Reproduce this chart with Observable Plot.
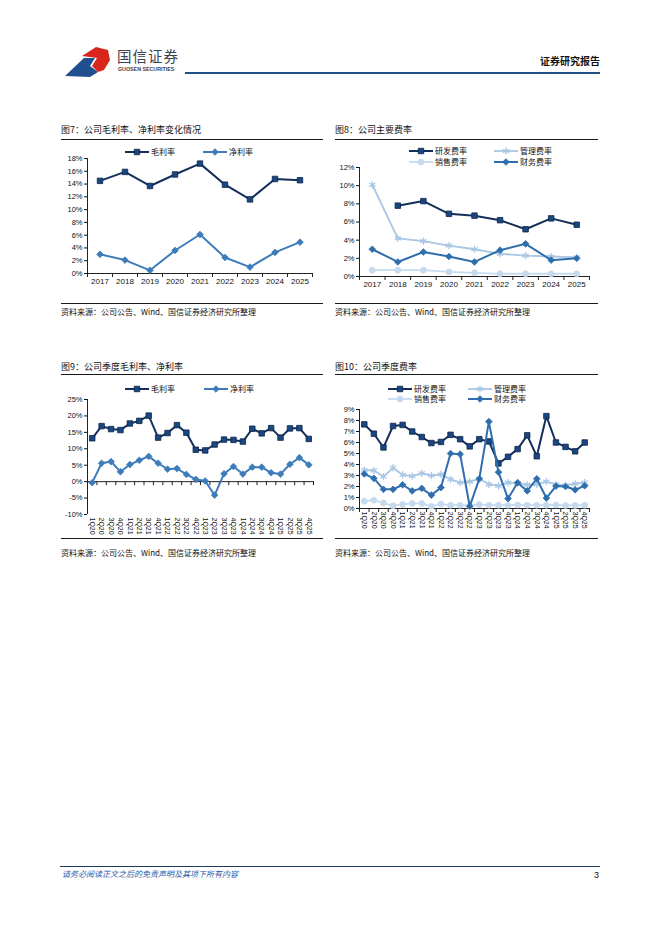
<!DOCTYPE html>
<html><head><meta charset="utf-8">
<script src="https://cdn.jsdelivr.net/npm/d3@7"></script>
<script src="https://cdn.jsdelivr.net/npm/@observablehq/plot@0.6"></script>
<style>
body{margin:0;width:662px;height:936px;background:#fff;position:relative;overflow:hidden;font-family:"Noto Sans CJK SC","Liberation Sans",sans-serif;color:#111}
.abs{position:absolute;white-space:nowrap}
.title{font-size:9px;line-height:11px}
.hr{position:absolute;height:0;border-top:1.3px solid #1a1a1a}
.src{font-size:8px;line-height:10px}
.leg{font-size:8px;line-height:8px;height:8px;color:#111}
</style></head><body>
<script>
// ---------- data ----------
const years = ["2017","2018","2019","2020","2021","2022","2023","2024","2025"];
const grossMarginY = [14.5, 15.9, 13.7, 15.5, 17.2, 13.9, 11.6, 14.8, 14.6];
const netMarginY   = [3.0, 2.1, 0.5, 3.6, 6.1, 2.5, 1.0, 3.3, 4.9];
const rdRateY      = [null, 7.8, 8.3, 6.9, 6.7, 6.2, 5.2, 6.4, 5.7];
const mgmtRateY    = [10.1, 4.2, 3.9, 3.4, 3.0, 2.5, 2.3, 2.2, 2.1];
const salesRateY   = [0.7, 0.7, 0.7, 0.5, 0.4, 0.3, 0.3, 0.3, 0.3];
const finRateY     = [3.0, 1.6, 2.7, 2.2, 1.6, 2.9, 3.6, 1.8, 2.0];

const quarters = ["1Q20","2Q20","3Q20","4Q20","1Q21","2Q21","3Q21","4Q21","1Q22","2Q22","3Q22","4Q22",
                  "1Q23","2Q23","3Q23","4Q23","1Q24","2Q24","3Q24","4Q24","1Q25","2Q25","3Q25","4Q25"];
const grossMarginQ = [13.2,16.9,16.0,15.7,17.7,18.5,20.1,13.4,14.8,17.2,14.9,9.7,9.5,11.3,12.8,12.7,12.2,16.1,14.7,16.3,13.4,16.2,16.3,13.0];
const netMarginQ   = [-0.3,5.6,6.1,3.0,5.2,6.5,7.7,5.6,3.8,4.0,2.2,0.7,0.2,-4.1,2.4,4.6,2.3,4.4,4.4,2.7,2.3,5.3,7.3,5.1];
const rdRateQ      = [7.65,6.8,5.55,7.5,7.6,7.0,6.5,5.95,6.05,6.7,6.3,5.65,6.3,6.1,4.1,4.7,5.4,6.65,4.75,8.4,6.0,5.6,5.2,6.0];
const mgmtRateQ    = [3.5,3.45,2.9,3.7,3.05,2.95,3.2,3.0,3.1,2.65,2.35,2.45,2.7,2.2,2.05,2.35,2.3,2.15,2.2,2.45,2.2,2.1,2.25,2.35];
const salesRateQ   = [0.67,0.76,0.5,0.25,0.37,0.46,0.46,0.2,0.4,0.3,0.3,0.25,0.37,0.3,0.3,0.3,0.32,0.3,0.3,0.3,0.32,0.28,0.28,0.3];
const finRateQ     = [3.14,2.74,1.74,1.74,2.16,1.6,1.83,1.22,1.9,5.0,4.94,0.2,2.7,7.9,3.3,0.9,2.35,1.6,2.7,0.95,2.04,2.0,1.7,2.07];

const ticks7 = [0,2,4,6,8,10,12,14,16,18];
const ticks8 = [0,2,4,6,8,10,12];
const ticks9 = [-10,-5,0,5,10,15,20,25];
const ticks10 = [0,1,2,3,4,5,6,7,8,9];

// ---------- styles ----------
const ST = {
  gross: {stroke:"#14305a", fill:"#1a4781", mstroke:"#0c2447", symbol:"square", r:3.1, sw:2},
  net:   {stroke:"#3d7cb9", fill:"#3d7cb9", mstroke:"#3d7cb9", symbol:"diamond2", r:3.0, sw:2},
  rd:    {stroke:"#14305a", fill:"#1a4781", mstroke:"#0c2447", symbol:"square", r:3.1, sw:2},
  mgmt:  {stroke:"#a9c6e4", fill:"none", mstroke:"#a9c6e4", symbol:"asterisk", r:3.4, sw:1.8},
  sales: {stroke:"#c6daef", fill:"#c6daef", mstroke:"#c6daef", symbol:"circle", r:3.0, sw:1.8},
  fin:   {stroke:"#2f6ead", fill:"#2f6ead", mstroke:"#2f6ead", symbol:"diamond2", r:3.0, sw:2}
};

function el(tag, cls, css, html){
  const e = document.createElement(tag);
  if (cls) e.className = cls;
  Object.assign(e.style, css || {});
  if (html != null) e.innerHTML = html;
  document.body.appendChild(e);
  return e;
}

function chart({left, top, width, height, ml, mr, mt, mb, labels, yDomain, yTicks, rotate, series}){
  const n = labels.length;
  const bounds = d3.range(n + 1).map(i => i - 0.5);
  const marks = [];
  marks.push(Plot.ruleY([0], {stroke:"#222", strokeWidth:1}));
  marks.push(Plot.ruleX(bounds, {x: d => d, y1: () => 0, y2: () => 0, insetBottom: -4, stroke:"#222", strokeWidth:1}));
  marks.push(Plot.ruleX([-0.5], {stroke:"#222", strokeWidth:1}));
  marks.push(Plot.axisY({ticks: yTicks, tickSize: 3, tickPadding: 2, tickFormat: d => d + "%", fontSize: 7.5}));
  marks.push(Plot.axisX({ticks: d3.range(n), tickFormat: i => labels[i], tickSize: 0,
    tickPadding: rotate ? 3 : 5, tickRotate: rotate ? 90 : 0, fontSize: rotate ? 7 : 8}));
  for (const s of series){
    const st = ST[s.style];
    const rows = s.values.map((v, i) => ({i, v}));
    marks.push(Plot.line(rows, {x:"i", y:"v", stroke: st.stroke, strokeWidth: st.sw}));
    marks.push(Plot.dot(rows.filter(d => d.v != null), {x:"i", y:"v", symbol: st.symbol, r: st.r,
      fill: st.fill, stroke: st.mstroke, strokeWidth: st.symbol === "asterisk" ? 1.3 : 0.8}));
  }
  const svg = Plot.plot({
    width, height, marginLeft: ml, marginRight: mr, marginTop: mt, marginBottom: mb,
    x: {type:"linear", domain:[-0.5, n - 0.5], label:null},
    y: {domain: yDomain, label:null},
    style: {fontFamily:"'Liberation Sans', Arial, sans-serif", fontSize:"8px", color:"#111", background:"transparent", overflow:"visible"},
    marks
  });
  const wrap = el("div", "abs", {left: left + "px", top: top + "px"});
  wrap.appendChild(svg);
}

function legendItem(x, y, styleKey, label){
  const st = ST[styleKey];
  const w = 24, h = 8;
  const ns = "http://www.w3.org/2000/svg";
  const d = el("div", "abs leg", {left: x + "px", top: (y - 4) + "px", display:"flex", alignItems:"center"});
  const svg = document.createElementNS(ns, "svg");
  svg.setAttribute("width", w); svg.setAttribute("height", h);
  svg.style.marginRight = "2px";
  svg.style.overflow = "visible";
  const ln = document.createElementNS(ns, "line");
  ln.setAttribute("x1", 0); ln.setAttribute("x2", w); ln.setAttribute("y1", h/2); ln.setAttribute("y2", h/2);
  ln.setAttribute("stroke", st.stroke); ln.setAttribute("stroke-width", st.sw);
  svg.appendChild(ln);
  const symMap = {square: d3.symbolSquare, diamond2: d3.symbolDiamond2, asterisk: d3.symbolAsterisk, circle: d3.symbolCircle};
  const p = document.createElementNS(ns, "path");
  p.setAttribute("d", d3.symbol(symMap[st.symbol], Math.PI * st.r * st.r)());
  p.setAttribute("transform", `translate(${w/2},${h/2})`);
  p.setAttribute("fill", st.fill); p.setAttribute("stroke", st.mstroke);
  p.setAttribute("stroke-width", st.symbol === "asterisk" ? 1.3 : 0.8);
  svg.appendChild(p);
  d.appendChild(svg);
  const t = document.createElement("span"); t.textContent = label; d.appendChild(t);
}

// ---------- header ----------
el("div", "abs", {left:"62px", top:"44px"}, `<svg width="52" height="34">
  <path d="M3,32 L22,14 L33,14 L28,22 L36,28 L28,33 Z" fill="#1f4f8f"/>
  <path d="M20,12 L34,3 L46,6 L48,16 L42,26 L36,28 L30,22 L35,14 Z" fill="#d9261c"/>
</svg>`);
el("div", "abs", {left:"117px", top:"47px", fontSize:"14.5px", color:"#3a4350", letterSpacing:"1px", lineHeight:"17px"}, "国信证券");
el("div", "abs", {left:"118px", top:"66px", fontSize:"5.3px", color:"#3a4350", fontWeight:"bold", fontFamily:"'Liberation Sans',sans-serif", lineHeight:"7px"}, "GUOSEN SECURITIES");
el("div", "abs", {left:"185px", top:"72px", width:"415px", height:"2px", background:"#1f4f86"});
el("div", "abs", {right:"62px", top:"55px", fontSize:"10px", fontWeight:"bold", color:"#111", lineHeight:"12px"}, "证券研究报告");

// ---------- panel frames ----------
function panel(x, w, titleTop, ruleTop, bottomRule, srcTop, title){
  el("div", "abs title", {left: x + "px", top: titleTop + "px"}, title);
  el("div", "hr", {left: x + "px", top: ruleTop + "px", width: w + "px"});
  el("div", "hr", {left: x + "px", top: bottomRule + "px", width: w + "px"});
  el("div", "abs src", {left: x + "px", top: srcTop + "px"}, "资料来源：公司公告、Wind、国信证券经济研究所整理");
}
panel(61, 262, 124, 139, 303, 307, "图7：公司毛利率、净利率变化情况");
panel(335, 263, 124, 139, 303, 307, "图8：公司主要费率");
panel(61, 262, 361, 374, 538, 548, "图9：公司季度毛利率、净利率");
panel(335, 263, 361, 374, 538, 548, "图10：公司季度费率");

// ---------- charts ----------
chart({left:55, top:145, width:270, height:150, ml:32, mr:13, mt:13, mb:22, labels: years,
  yDomain:[0,18], yTicks: ticks7, rotate:false,
  series:[{values: grossMarginY, style:"gross"}, {values: netMarginY, style:"net"}]});
legendItem(125, 152, "gross", "毛利率");
legendItem(203, 152, "net", "净利率");

chart({left:330, top:145, width:270, height:150, ml:29, mr:11, mt:22, mb:19, labels: years,
  yDomain:[0,12], yTicks: ticks8, rotate:false,
  series:[{values: mgmtRateY, style:"mgmt"}, {values: salesRateY, style:"sales"},
          {values: finRateY, style:"fin"}, {values: rdRateY, style:"rd"}]});
legendItem(409, 151, "rd", "研发费率");
legendItem(494, 151, "mgmt", "管理费率");
legendItem(409, 162, "sales", "销售费率");
legendItem(494, 162, "fin", "财务费率");

chart({left:55, top:380, width:270, height:160, ml:32, mr:12, mt:19, mb:26, labels: quarters,
  yDomain:[-10,25], yTicks: ticks9, rotate:true,
  series:[{values: grossMarginQ, style:"gross"}, {values: netMarginQ, style:"net"}]});
legendItem(125, 389, "gross", "毛利率");
legendItem(204, 389, "net", "净利率");

chart({left:330, top:380, width:270, height:160, ml:29, mr:11, mt:29, mb:32, labels: quarters,
  yDomain:[0,9], yTicks: ticks10, rotate:true,
  series:[{values: mgmtRateQ, style:"mgmt"}, {values: salesRateQ, style:"sales"},
          {values: rdRateQ, style:"rd"}, {values: finRateQ, style:"fin"}]});
legendItem(388, 389, "rd", "研发费率");
legendItem(468, 389, "mgmt", "管理费率");
legendItem(388, 399, "sales", "销售费率");
legendItem(468, 399, "fin", "财务费率");

// ---------- footer ----------
el("div", "abs", {left:"60px", top:"866px", width:"540px", height:"0", borderTop:"1px solid #1f3a5f"});
el("div", "abs", {left:"62px", top:"869px", fontSize:"8px", fontStyle:"italic", color:"#2a5ca8", lineHeight:"10px"}, "请务必阅读正文之后的免责声明及其项下所有内容");
el("div", "abs", {right:"63px", top:"870px", fontSize:"9px", color:"#111", fontFamily:"'Liberation Sans',sans-serif", lineHeight:"11px"}, "3");
</script>
</body></html>
